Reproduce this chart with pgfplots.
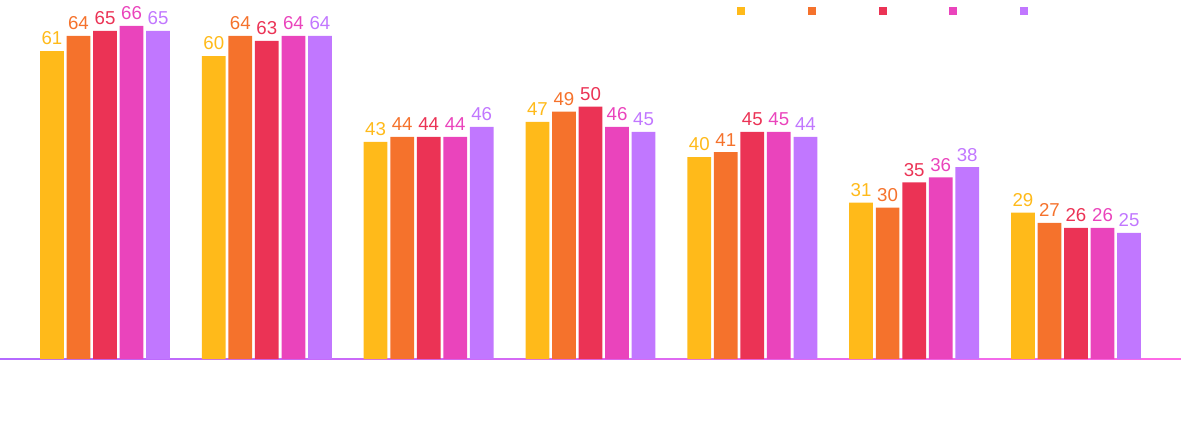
\documentclass[border=0pt]{standalone}
\usepackage{pgfplots}
\pgfplotsset{compat=1.18}
\usepackage{fontspec}
\setmainfont{Liberation Sans}
\definecolor{cA}{HTML}{FFBA1A}
\definecolor{cB}{HTML}{F5722C}
\definecolor{cC}{HTML}{EB3355}
\definecolor{cD}{HTML}{EA44BC}
\definecolor{cE}{HTML}{C177FF}
\definecolor{cL1}{HTML}{B46AFF}
\definecolor{cL2}{HTML}{FF6AE6}
\begin{document}
\begin{tikzpicture}
\begin{axis}[
  scale only axis,
  width=885.75pt, height=327.75pt,
  xmin=-0.649, xmax=6.649,
  ymin=-15.4, ymax=71.1,
  axis lines=none,
  xtick=\empty, ytick=\empty,
  /pgf/number format/assume math mode=true,
  ybar=2.1pt, bar width=17.8pt,
  clip=false,
  nodes near coords,
  every node near coord/.append style={font=\fontsize{14}{16}\selectfont, inner sep=4.3pt},
  legend columns=-1,
  legend style={draw=none, fill=none, at={(0.624,0.99)}, anchor=north west, inner sep=0pt, column sep=0pt,
     nodes={inner sep=0pt, text width=47pt, font=\fontsize{10}{12}\selectfont}},
  legend image code/.code={\fill[#1] (0pt,-3pt) rectangle (6pt,3pt);},
]
\shade[left color=cL1, right color=cL2] ([yshift=-0.5pt]axis cs:-0.649,0) rectangle ([yshift=0.3pt]axis cs:6.649,0);
\addplot[draw=none, fill=cA, nodes near coords style={text=cA}] coordinates {(0,61)(1,60)(2,43)(3,47)(4,40)(5,31)(6,29)};
\addplot[draw=none, fill=cB, nodes near coords style={text=cB}] coordinates {(0,64)(1,64)(2,44)(3,49)(4,41)(5,30)(6,27)};
\addplot[draw=none, fill=cC, nodes near coords style={text=cC}] coordinates {(0,65)(1,63)(2,44)(3,50)(4,45)(5,35)(6,26)};
\addplot[draw=none, fill=cD, nodes near coords style={text=cD}] coordinates {(0,66)(1,64)(2,44)(3,46)(4,45)(5,36)(6,26)};
\addplot[draw=none, fill=cE, nodes near coords style={text=cE}] coordinates {(0,65)(1,64)(2,46)(3,45)(4,44)(5,38)(6,25)};
\legend{\strut,\strut,\strut,\strut,\strut}
\coordinate (bl) at (rel axis cs:0,0);
\coordinate (tr) at (rel axis cs:1,1);
\end{axis}
\pgfresetboundingbox
\path (bl) rectangle (tr);
\end{tikzpicture}
\end{document}
